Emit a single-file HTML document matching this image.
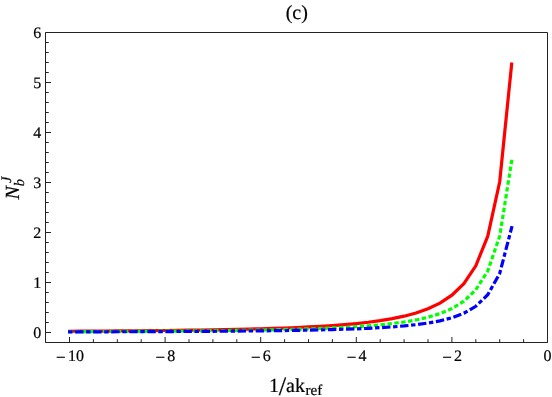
<!DOCTYPE html>
<html><head><meta charset="utf-8"><style>
html,body{margin:0;padding:0;background:#fff;}
svg{display:block;will-change:transform;text-rendering:geometricPrecision;font-family:"Liberation Serif",serif;}
text{fill:#000;stroke:#000;stroke-width:0.2px;}
</style></head><body>
<svg width="552" height="397" viewBox="0 0 552 397">
<rect width="552" height="397" fill="#fff"/>
<path d="M45.5 32.5H547.5V342.5H45.5Z" fill="none" stroke="#222" stroke-width="1"/>
<path d="M69.50 342.5v-5.5 M93.40 342.5v-3.3 M117.30 342.5v-3.3 M141.20 342.5v-3.3 M165.10 342.5v-5.5 M189.00 342.5v-3.3 M212.90 342.5v-3.3 M236.80 342.5v-3.3 M260.70 342.5v-5.5 M284.60 342.5v-3.3 M308.50 342.5v-3.3 M332.40 342.5v-3.3 M356.30 342.5v-5.5 M380.20 342.5v-3.3 M404.10 342.5v-3.3 M428.00 342.5v-3.3 M451.90 342.5v-5.5 M475.80 342.5v-3.3 M499.70 342.5v-3.3 M523.60 342.5v-3.3 M547.50 342.5v-5.5 M45.5 342.50h3.3 M45.5 332.50h5.5 M45.5 322.50h3.3 M45.5 312.50h3.3 M45.5 302.50h3.3 M45.5 292.50h3.3 M45.5 282.50h5.5 M45.5 272.50h3.3 M45.5 262.50h3.3 M45.5 252.50h3.3 M45.5 242.50h3.3 M45.5 232.50h5.5 M45.5 222.50h3.3 M45.5 212.50h3.3 M45.5 202.50h3.3 M45.5 192.50h3.3 M45.5 182.50h5.5 M45.5 172.50h3.3 M45.5 162.50h3.3 M45.5 152.50h3.3 M45.5 142.50h3.3 M45.5 132.50h5.5 M45.5 122.50h3.3 M45.5 112.50h3.3 M45.5 102.50h3.3 M45.5 92.50h3.3 M45.5 82.50h5.5 M45.5 72.50h3.3 M45.5 62.50h3.3 M45.5 52.50h3.3 M45.5 42.50h3.3 M45.5 32.50h5.5" fill="none" stroke="#222" stroke-width="1"/>
<text x="41.3" y="338.10" text-anchor="end" font-size="16">0</text>
<text x="41.3" y="288.10" text-anchor="end" font-size="16">1</text>
<text x="41.3" y="238.10" text-anchor="end" font-size="16">2</text>
<text x="41.3" y="188.10" text-anchor="end" font-size="16">3</text>
<text x="41.3" y="138.10" text-anchor="end" font-size="16">4</text>
<text x="41.3" y="88.10" text-anchor="end" font-size="16">5</text>
<text x="41.3" y="38.10" text-anchor="end" font-size="16">6</text>
<text x="55.90" y="362.6" font-size="17">−</text>
<text x="67.90" y="361.2" font-size="16">10</text>
<text x="155.50" y="362.6" font-size="17">−</text>
<text x="167.20" y="361.2" font-size="16">8</text>
<text x="251.10" y="362.6" font-size="17">−</text>
<text x="262.80" y="361.2" font-size="16">6</text>
<text x="346.70" y="362.6" font-size="17">−</text>
<text x="358.40" y="361.2" font-size="16">4</text>
<text x="442.30" y="362.6" font-size="17">−</text>
<text x="454.00" y="361.2" font-size="16">2</text>
<text x="547.6" y="361.2" text-anchor="middle" font-size="16">0</text>
<text x="296.75" y="19.1" text-anchor="middle" font-size="20">(c)</text>
<text y="392" font-size="20"><tspan x="269">1</tspan><tspan x="278.65" y="395.2" font-size="26.5">/</tspan><tspan x="286.1" y="392">ak</tspan><tspan x="305.6" y="395.4" font-size="15">ref</tspan></text>
<g transform="translate(19 199.6) rotate(-90)" font-style="italic"><text x="0" y="0" font-size="20">N</text><text x="13.3" y="5" font-size="14.5">b</text><text x="16.6" y="-8" font-size="14.5">J</text></g>
<path d="M68.10 331.24 L81.45 331.17 L93.40 331.11 L105.35 331.03 L117.30 330.95 L129.25 330.85 L141.20 330.75 L153.15 330.64 L165.10 330.51 L177.05 330.37 L189.00 330.22 L200.95 330.04 L212.90 329.85 L224.85 329.63 L236.80 329.39 L248.75 329.11 L260.70 328.80 L272.65 328.43 L284.60 328.00 L296.55 327.51 L308.50 326.95 L320.45 326.30 L332.40 325.53 L344.35 324.63 L356.30 323.55 L368.25 322.24 L380.20 320.65 L392.15 318.68 L404.10 316.19 L416.05 313.00 L428.00 308.80 L439.95 303.12 L451.90 295.19 L463.85 283.61 L475.80 265.78 L487.75 236.20 L499.70 181.75 L511.81 62.52" fill="none" stroke="#ff0000" stroke-width="3.2" stroke-linejoin="miter"/>
<path d="M68.10 331.64 L81.45 331.59 L93.40 331.54 L105.35 331.49 L117.30 331.43 L129.25 331.37 L141.20 331.30 L153.15 331.23 L165.10 331.14 L177.05 331.05 L189.00 330.95 L200.95 330.83 L212.90 330.71 L224.85 330.56 L236.80 330.40 L248.75 330.22 L260.70 330.02 L272.65 329.78 L284.60 329.51 L296.55 329.20 L308.50 328.84 L320.45 328.42 L332.40 327.93 L344.35 327.36 L356.30 326.67 L368.25 325.84 L380.20 324.82 L392.15 323.56 L404.10 321.98 L416.05 319.94 L428.00 317.26 L439.95 313.64 L451.90 308.57 L463.85 301.19 L475.80 289.81 L487.75 270.94 L499.70 236.20 L511.90 159.56" fill="none" stroke="#00ff00" stroke-width="3.2" stroke-dasharray="4.45 2.496"/>
<path d="M68.10 331.91 L81.45 331.88 L93.40 331.85 L105.35 331.81 L117.30 331.77 L129.25 331.73 L141.20 331.68 L153.15 331.63 L165.10 331.58 L177.05 331.52 L189.00 331.45 L200.95 331.38 L212.90 331.30 L224.85 331.21 L236.80 331.10 L248.75 330.99 L260.70 330.86 L272.65 330.72 L284.60 330.55 L296.55 330.36 L308.50 330.14 L320.45 329.89 L332.40 329.59 L344.35 329.23 L356.30 328.81 L368.25 328.30 L380.20 327.68 L392.15 326.91 L404.10 325.94 L416.05 324.70 L428.00 323.06 L439.95 320.85 L451.90 317.75 L463.85 313.23 L475.80 306.28 L487.75 294.74 L499.70 273.50 L512.05 226.06" fill="none" stroke="#0000ff" stroke-width="3.2" stroke-dasharray="4.4 2.63 8.4 2.63"/>
</svg>
</body></html>
